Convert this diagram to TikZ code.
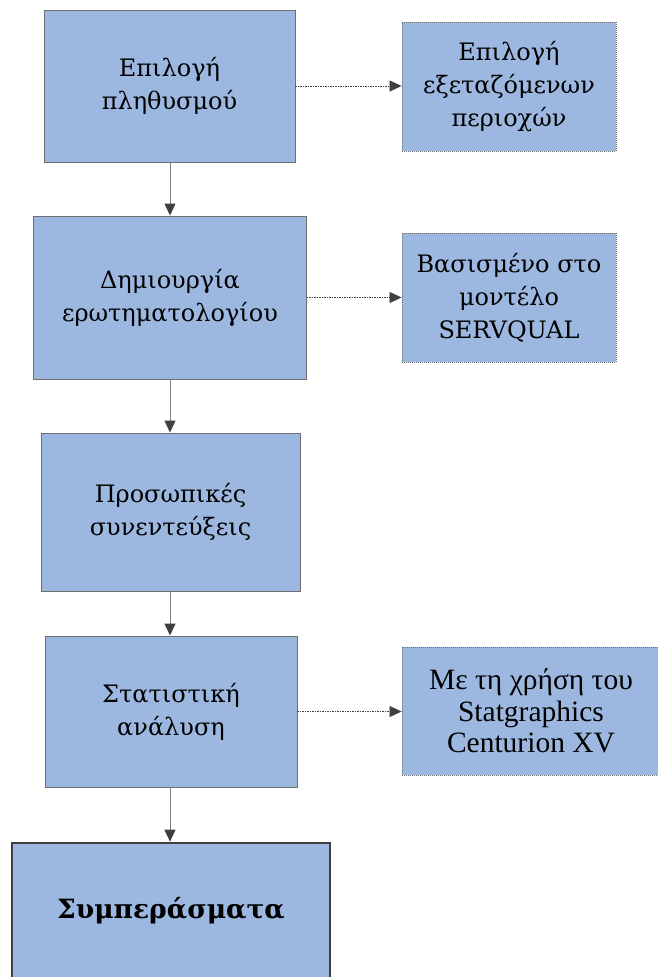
\documentclass[tikz,border=0pt]{standalone}
\usepackage{fontspec}
\setmainfont{Liberation Serif}
\newfontfamily\camb{DejaVu Serif}
\usetikzlibrary{arrows.meta}
\definecolor{boxfill}{HTML}{9CB8E0}
\definecolor{boxline}{HTML}{6E6E6E}
\definecolor{arrline}{HTML}{808080}
\definecolor{headcol}{HTML}{404040}
\tikzset{
  mainbox/.style={draw=boxline, line width=0.9pt, fill=boxfill, align=center, inner sep=0pt},
  sidebox/.style={draw=boxline, line width=0.9pt, dash pattern=on 1pt off 1pt, fill=boxfill, align=center, inner sep=0pt},
  finalbox/.style={draw=headcol, line width=2.6pt, fill=boxfill, align=center, inner sep=0pt},
  cambtext/.style={font=\camb\fontsize{24}{33}\selectfont},
  timestext/.style={font=\fontsize{29.5}{31.5}\selectfont},
  flow/.style={draw=arrline, line width=0.9pt, -{Triangle[length=12pt,width=11pt,color=headcol]}},
  side/.style={draw=headcol, line width=0.8pt, dash pattern=on 1.5pt off 1pt, -{Triangle[length=12pt,width=11pt,color=headcol]}}
}
\begin{document}
\begin{tikzpicture}[x=1pt,y=-1pt]
\useasboundingbox (0,0) rectangle (657,977);
\node[mainbox, cambtext, minimum width=251pt, minimum height=152pt] (b1) at (169.5,86) {Επιλογή\\πληθυσμού};
\node[sidebox, cambtext, minimum width=214pt, minimum height=129pt] (s1) at (509,86.5) {Επιλογή\\εξεταζόμενων\\περιοχών};
\node[mainbox, cambtext, minimum width=272.5pt, minimum height=163pt] (b2) at (170,297.5) {Δημιουργία\\ερωτηματολογίου};
\node[sidebox, cambtext, minimum width=214pt, minimum height=129pt] (s2) at (509,297.5) {Βασισμένο στο\\μοντέλο\\SERVQUAL};
\node[mainbox, cambtext, minimum width=259pt, minimum height=158pt] (b3) at (170.5,512) {Προσωπικές\\συνεντεύξεις};
\node[mainbox, cambtext, minimum width=252pt, minimum height=151pt] (b4) at (171,711.5) {Στατιστική\\ανάλυση};
\node[sidebox, timestext, minimum width=258pt, minimum height=128pt] (s4) at (531,711) {Με τη χρήση του\\Statgraphics\\Centurion XV};
\node[finalbox, font=\camb\bfseries\fontsize{26.5}{36}\selectfont, minimum width=318pt, minimum height=135pt] (b5) at (171,910.5) {Συμπεράσματα};
\draw[flow] (b1.south -| 170,0) -- (b2.north -| 170,0);
\draw[flow] (b2.south -| 170,0) -- (b3.north -| 170,0);
\draw[flow] (b3.south -| 170,0) -- (b4.north -| 170,0);
\draw[flow] (b4.south -| 170,0) -- (b5.north -| 170,0);
\draw[side] (b1.east) -- (s1.west |- b1.east);
\draw[side] (b2.east) -- (s2.west |- b2.east);
\draw[side] (b4.east) -- (s4.west |- b4.east);
\end{tikzpicture}
\end{document}
